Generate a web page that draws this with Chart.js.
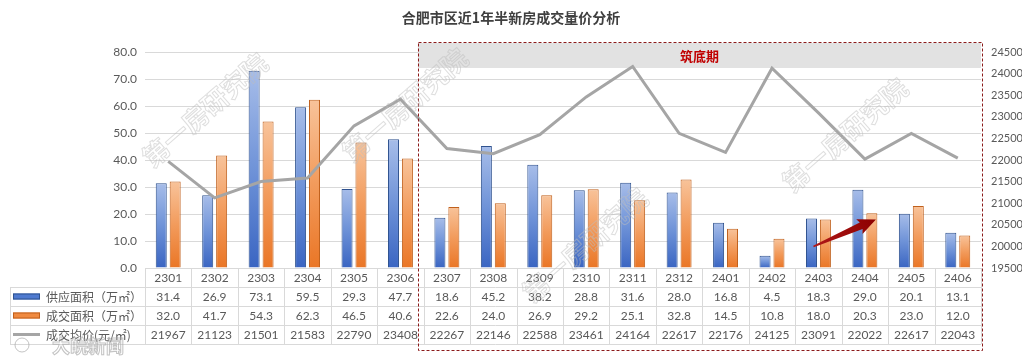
<!DOCTYPE html>
<html><head><meta charset="utf-8">
<script src="https://cdn.jsdelivr.net/npm/chart.js@4.4.1/dist/chart.umd.min.js"></script>
<style>html,body{margin:0;padding:0;background:#fff;overflow:hidden}#wrap{width:1022px;height:356px;position:relative}</style>
</head><body><div id="wrap"><canvas id="c" width="1022" height="356"></canvas></div>
<script>
const titleText = '合肥市区近1年半新房成交量价分析';
const categories = ['2301','2302','2303','2304','2305','2306','2307','2308','2309','2310','2311','2312','2401','2402','2403','2404','2405','2406'];
const supplyArea = [31.4,26.9,73.1,59.5,29.3,47.7,18.6,45.2,38.2,28.8,31.6,28.0,16.8,4.5,18.3,29.0,20.1,13.1];
const dealArea = [32.0,41.7,54.3,62.3,46.5,40.6,22.6,24.0,26.9,29.2,25.1,32.8,14.5,10.8,18.0,20.3,23.0,12.0];
const avgPrice = [21967,21123,21501,21583,22790,23408,22267,22146,22588,23461,24164,22617,22176,24125,23091,22022,22617,22043];
const seriesNames = ['供应面积（万㎡）','成交面积（万㎡）','成交均价(元/㎡)'];
const phaseLabel = '筑底期';
const phaseStartIndex = 6;
const watermark = '第一房研究院';
const sourceMark = '大皖新闻';

const NUMFONT = 'Lato, "Noto Sans CJK SC", sans-serif';
const CJKFONT = '"Noto Sans CJK SC", sans-serif';

function barGrad(light, mid, dark) {
  return ctx => {
    const chart = ctx.chart;
    if (!chart.chartArea || ctx.type !== 'data') return dark;
    const ys = chart.scales.y;
    const top = ys.getPixelForValue(ctx.raw), bot = ys.getPixelForValue(0);
    if (!(bot > top)) return dark;
    const g = chart.ctx.createLinearGradient(0, top, 0, bot);
    g.addColorStop(0, light); g.addColorStop(0.5, mid); g.addColorStop(1, dark);
    return g;
  };
}

const overlay = {
  id: 'overlay',
  beforeDatasetsDraw(chart) {
    const {ctx, chartArea: ca, scales} = chart;
    const x0 = scales.x.getPixelForValue(phaseStartIndex) - 29;
    ctx.save();
    ctx.fillStyle = '#e2e2e2';
    ctx.fillRect(x0, ca.top - 9, ca.right - x0, 25);
    ctx.restore();
  },
  afterDraw(chart) {
    const {ctx, chartArea: ca, scales} = chart;
    const xs = scales.x, ys = scales.y;
    const colW = (ca.right - ca.left) / categories.length;
    ctx.save();
    ctx.fillStyle = '#404040';
    ctx.font = 'bold 14px ' + CJKFONT;
    ctx.textAlign = 'center'; ctx.textBaseline = 'middle';
    ctx.fillText(titleText, 511, 18);
    const x0 = xs.getPixelForValue(phaseStartIndex) - 29;
    ctx.fillStyle = '#c00000';
    ctx.font = 'bold 13px ' + CJKFONT;
    ctx.fillText(phaseLabel, (x0 + ca.right) / 2, ca.top + 4);

    const rows = [ca.bottom, ca.bottom + 19, ca.bottom + 38, ca.bottom + 57, ca.bottom + 76];
    const tl = 10;
    ctx.strokeStyle = '#d9d9d9'; ctx.lineWidth = 1;
    ctx.beginPath();
    ctx.moveTo(ca.left, rows[0] + 0.5); ctx.lineTo(ca.right, rows[0] + 0.5);
    for (let r = 1; r < rows.length; r++) { ctx.moveTo(tl, rows[r] + 0.5); ctx.lineTo(ca.right, rows[r] + 0.5); }
    for (let i = 0; i <= categories.length; i++) {
      const x = Math.round(ca.left + i * colW) + 0.5;
      ctx.moveTo(x, rows[0]); ctx.lineTo(x, rows[4]);
    }
    ctx.moveTo(tl + 0.5, rows[1]); ctx.lineTo(tl + 0.5, rows[4]);
    ctx.stroke();
    ctx.fillStyle = '#595959';
    ctx.font = '12px ' + NUMFONT;
    ctx.textAlign = 'center'; ctx.textBaseline = 'middle';
    categories.forEach((c, i) => {
      const cx = xs.getPixelForValue(i);
      ctx.fillText(c, cx, (rows[0] + rows[1]) / 2 + 1);
      ctx.fillText(supplyArea[i].toFixed(1), cx, (rows[1] + rows[2]) / 2 + 1);
      ctx.fillText(dealArea[i].toFixed(1), cx, (rows[2] + rows[3]) / 2 + 1);
      ctx.fillText(String(avgPrice[i]), cx, (rows[3] + rows[4]) / 2 + 1);
    });
    const keyFill = [['#4f7ad0', '#2f528f'], ['#f08a40', '#c0601c']];
    for (let r = 0; r < 3; r++) {
      const cy = (rows[r + 1] + rows[r + 2]) / 2;
      if (r < 2) {
        ctx.fillStyle = keyFill[r][0];
        ctx.fillRect(13, cy - 3, 27, 6);
        ctx.strokeStyle = keyFill[r][1];
        ctx.strokeRect(13.5, cy - 2.5, 26, 5);
      } else {
        ctx.strokeStyle = '#a5a5a5'; ctx.lineWidth = 3;
        ctx.beginPath(); ctx.moveTo(13, cy); ctx.lineTo(40, cy); ctx.stroke();
        ctx.lineWidth = 1;
      }
      ctx.fillStyle = '#595959';
      ctx.font = '12px ' + CJKFONT;
      ctx.textAlign = 'left';
      ctx.fillText(seriesNames[r], 46, cy + 1);
    }

    ctx.strokeStyle = '#8b1a1a'; ctx.lineWidth = 1;
    ctx.setLineDash([3, 2]);
    ctx.strokeRect(Math.round(x0) + 0.5, ca.top - 9.5, Math.round(ca.right - x0) + 1, rows[4] + 7 - (ca.top - 9));
    ctx.setLineDash([]);

    const ax0 = xs.getPixelForValue(14) - 5, ay0 = ys.getPixelForValue(8);
    const ax1 = xs.getPixelForValue(15) + 11, ay1 = ys.getPixelForValue(18);
    const ang = Math.atan2(ay1 - ay0, ax1 - ax0);
    const len = Math.hypot(ax1 - ax0, ay1 - ay0);
    ctx.translate(ax0, ay0); ctx.rotate(ang);
    const ag = ctx.createLinearGradient(0, 0, len, 0);
    ag.addColorStop(0, '#b01818'); ag.addColorStop(1, '#8c0000');
    ctx.fillStyle = ag;
    ctx.beginPath();
    ctx.moveTo(0, -0.8); ctx.lineTo(len - 16, -3.5); ctx.lineTo(len - 18, -8);
    ctx.lineTo(len, 0); ctx.lineTo(len - 18, 8); ctx.lineTo(len - 16, 3.5); ctx.lineTo(0, 0.8);
    ctx.closePath(); ctx.fill();
    ctx.setTransform(1, 0, 0, 1, 0, 0);

    ctx.font = 'bold 26px ' + CJKFONT;
    ctx.strokeStyle = 'rgba(190,190,190,0.5)'; ctx.lineWidth = 1;
    ctx.textAlign = 'center'; ctx.textBaseline = 'middle';
    [[205, 110], [405, 105], [585, 245], [845, 135]].forEach(([x, y]) => {
      ctx.save(); ctx.translate(x, y); ctx.rotate(-0.72);
      ctx.strokeText(watermark, 0, 0); ctx.restore();
    });
    ctx.font = 'bold 18px ' + CJKFONT;
    ctx.strokeStyle = 'rgba(170,170,170,0.7)';
    ctx.textAlign = 'left';
    ctx.strokeText(sourceMark, 52, 346);
    ctx.beginPath(); ctx.arc(22, 345, 7, 0, Math.PI * 2); ctx.stroke();
    ctx.restore();
  }
};

new Chart(document.getElementById('c'), {
  type: 'bar',
  data: {
    labels: categories,
    datasets: [
      { type: 'line', label: seriesNames[2], data: avgPrice, yAxisID: 'y1', borderColor: '#a5a5a5', borderWidth: 3,
        pointRadius: 0, tension: 0, fill: false, order: 0 },
      { label: seriesNames[0], data: supplyArea, yAxisID: 'y', backgroundColor: barGrad('#a7bde9', '#6f93d8', '#3a65c2'),
        borderColor: '#2f528f', borderWidth: 1, categoryPercentage: 0.6, barPercentage: 0.79, order: 1 },
      { label: seriesNames[1], data: dealArea, yAxisID: 'y', backgroundColor: barGrad('#f8c39a', '#f29b5c', '#ea7626'),
        borderColor: '#c0601c', borderWidth: 1, categoryPercentage: 0.6, barPercentage: 0.79, order: 1 }
    ]
  },
  options: {
    responsive: false, animation: false, devicePixelRatio: 1,
    layout: { padding: { top: 52, bottom: 88, left: 0, right: 0 } },
    plugins: { legend: { display: false }, title: { display: false }, tooltip: { enabled: false } },
    scales: {
      x: { display: false },
      y: { position: 'left', min: 0, max: 80,
        ticks: { stepSize: 10, callback: v => Number(v).toFixed(1), color: '#595959', font: { size: 12, family: NUMFONT }, padding: 8 },
        grid: { color: '#d9d9d9', drawTicks: false }, border: { display: false },
        afterFit: s => { s.width = 145; } },
      y1: { position: 'right', min: 19500, max: 24500,
        ticks: { stepSize: 500, callback: v => String(v), color: '#595959', font: { size: 11, family: NUMFONT }, padding: 2 },
        grid: { display: false }, border: { display: false },
        afterFit: s => { s.width = 41; } }
    }
  },
  plugins: [overlay]
});
</script>
</body></html>
